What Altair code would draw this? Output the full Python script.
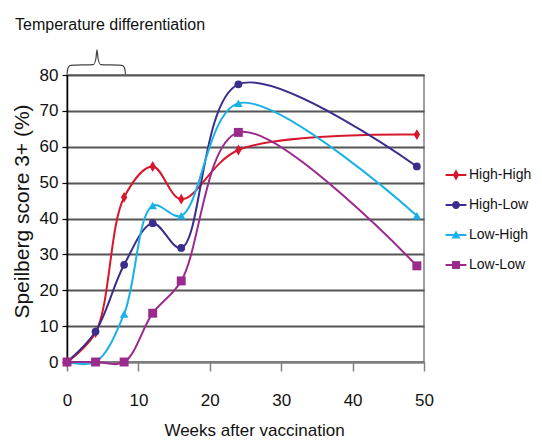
import altair as alt
import pandas as pd

# ---- data ----
weeks = [0, 4, 8, 12, 16, 24, 49]
series_names = ["High-High", "High-Low", "Low-High", "Low-Low"]
high_high = [0, 8.2, 45.9, 54.5, 45.4, 59.1, 63.4]
high_low = [0, 8.5, 27.1, 38.7, 31.8, 77.4, 54.5]
low_high = [0, 0, 13.4, 43.6, 40.8, 72.1, 40.8]
low_low = [0, 0, 0, 13.6, 22.6, 64.0, 26.8]
series_values = [high_high, high_low, low_high, low_low]

x_ticks = [0, 10, 20, 30, 40, 50]
y_ticks = [0, 10, 20, 30, 40, 50, 60, 70, 80]

# brace annotation over the temperature-differentiation period (weeks, %)
brace_x = [0, 0.15, 0.5, 3.7, 4.05, 4.2, 4.35, 4.7, 7.7, 8.05, 8.2]
brace_y = [80.2, 82.0, 82.7, 82.9, 84.6, 87.0, 84.6, 82.9, 82.7, 82.0, 80.2]

# ---- styles ----
colors = ["#d6172c", "#3a2e8c", "#1ab2e6", "#9b2a8d"]
marker_paths = [
    "M0,-1.35L0.8,0L0,1.35L-0.8,0Z",
    "circle",
    "triangle-up",
    "square",
]
marker_sizes = [64, 60, 75, 80]
bar = "M-2.6,-0.22H2.6V0.22H-2.6Z "
legend_paths = [
    bar + "M0,-1.35L0.8,0L0,1.35L-0.8,0Z",
    bar + "M1,0A1,1 0 1,1 -1,0A1,1 0 1,1 1,0Z",
    bar + "M0,-1.1L1.1,0.9L-1.1,0.9Z",
    bar + "M-1,-1H1V1H-1Z",
]

FONT = "Liberation Sans, Arial"

rows = []
for name, vals in zip(series_names, series_values):
    for w, v in zip(weeks, vals):
        rows.append({"series": name, "week": w, "score": v})
df = pd.DataFrame(rows)
brace_df = pd.DataFrame({"week": brace_x, "score": brace_y})

x_scale = alt.Scale(domain=[0, 50], nice=False)
y_scale = alt.Scale(domain=[0, 80], nice=False)

x_enc = alt.X(
    "week:Q",
    scale=x_scale,
    axis=alt.Axis(
        values=x_ticks,
        title="Weeks after vaccination",
        grid=False,
        domainColor="#808080",
        domainWidth=1.5,
        tickColor="#808080",
        tickSize=9,
        tickWidth=1.5,
        labelFont=FONT,
        labelFontSize=17,
        labelColor="#111",
        labelPadding=21,
        labelFlush=False,
        labelOverlap=False,
        titleFont=FONT,
        titleFontSize=17,
        titleFontWeight="normal",
        titleColor="#111",
        titleX=187,
        titleY=73,
        titleBaseline="alphabetic",
    ),
)
y_enc = alt.Y(
    "score:Q",
    scale=y_scale,
    axis=alt.Axis(
        values=y_ticks,
        title="Speilberg score 3+ (%)",
        grid=True,
        gridColor="#555555",
        gridWidth=1.8,
        domainColor="#000",
        domainWidth=1.5,
        tickColor="#000",
        tickSize=5,
        tickWidth=1.2,
        labelFont=FONT,
        labelFontSize=17,
        labelColor="#111",
        labelPadding=4,
        labelOverlap=False,
        labelFlush=False,
        titleFont=FONT,
        titleFontSize=21,
        titleFontWeight="normal",
        titleColor="#111",
        titleX=-35,
        titleY=136,
        titleAngle=270,
        titleAlign="center",
        titleBaseline="bottom",
    ),
)
color_scale = alt.Scale(domain=series_names, range=colors)
color_enc = alt.Color("series:N", scale=color_scale)

lines = (
    alt.Chart(df)
    .mark_line(interpolate="catmull-rom", strokeWidth=2, clip=False)
    .encode(x=x_enc, y=y_enc, color=color_enc)
)

layers = [lines]
for i, name in enumerate(series_names):
    pts = (
        alt.Chart(df)
        .transform_filter(alt.datum.series == name)
        .mark_point(shape=marker_paths[i], filled=True, size=marker_sizes[i], opacity=1, clip=False)
        .encode(x=x_enc, y=y_enc, color=color_enc)
    )
    layers.append(pts)

legend_layer = (
    alt.Chart(df)
    .transform_filter("false")
    .mark_point(filled=True, opacity=1)
    .encode(
        x=x_enc,
        y=y_enc,
        color=color_enc,
        shape=alt.Shape(
            "series:N",
            scale=alt.Scale(domain=series_names, range=legend_paths),
        ),
    )
)
layers.append(legend_layer)

brace = (
    alt.Chart(brace_df)
    .mark_line(color="#444", strokeWidth=1.2, clip=False, interpolate="monotone")
    .encode(x=x_enc, y=y_enc)
)
layers.append(brace)

chart = (
    alt.layer(*layers)
    .properties(
        width=357,
        height=287,
        autosize=alt.AutoSizeParams(type="none"),
        padding={"left": 59, "top": 67, "right": 110, "bottom": 78},
        background="white",
        title=alt.TitleParams(
            "Temperature differentiation",
            anchor="start",
            frame="group",
            dx=-52,
            offset=14,
            font=FONT,
            fontSize=16,
            fontWeight="normal",
            color="#111",
        ),
    )
    .configure_view(stroke="#808080", strokeWidth=1.5)
    .configure_legend(
        orient="none",
        legendX=382,
        legendY=93,
        title=None,
        labelFont=FONT,
        labelFontSize=14,
        labelColor="#111",
        symbolSize=64,
        labelOffset=6,
        rowPadding=16,
        symbolStrokeWidth=0,
        symbolOpacity=1,
    )
)

chart.save("out.html", embed_options={"renderer": "svg", "actions": False})
